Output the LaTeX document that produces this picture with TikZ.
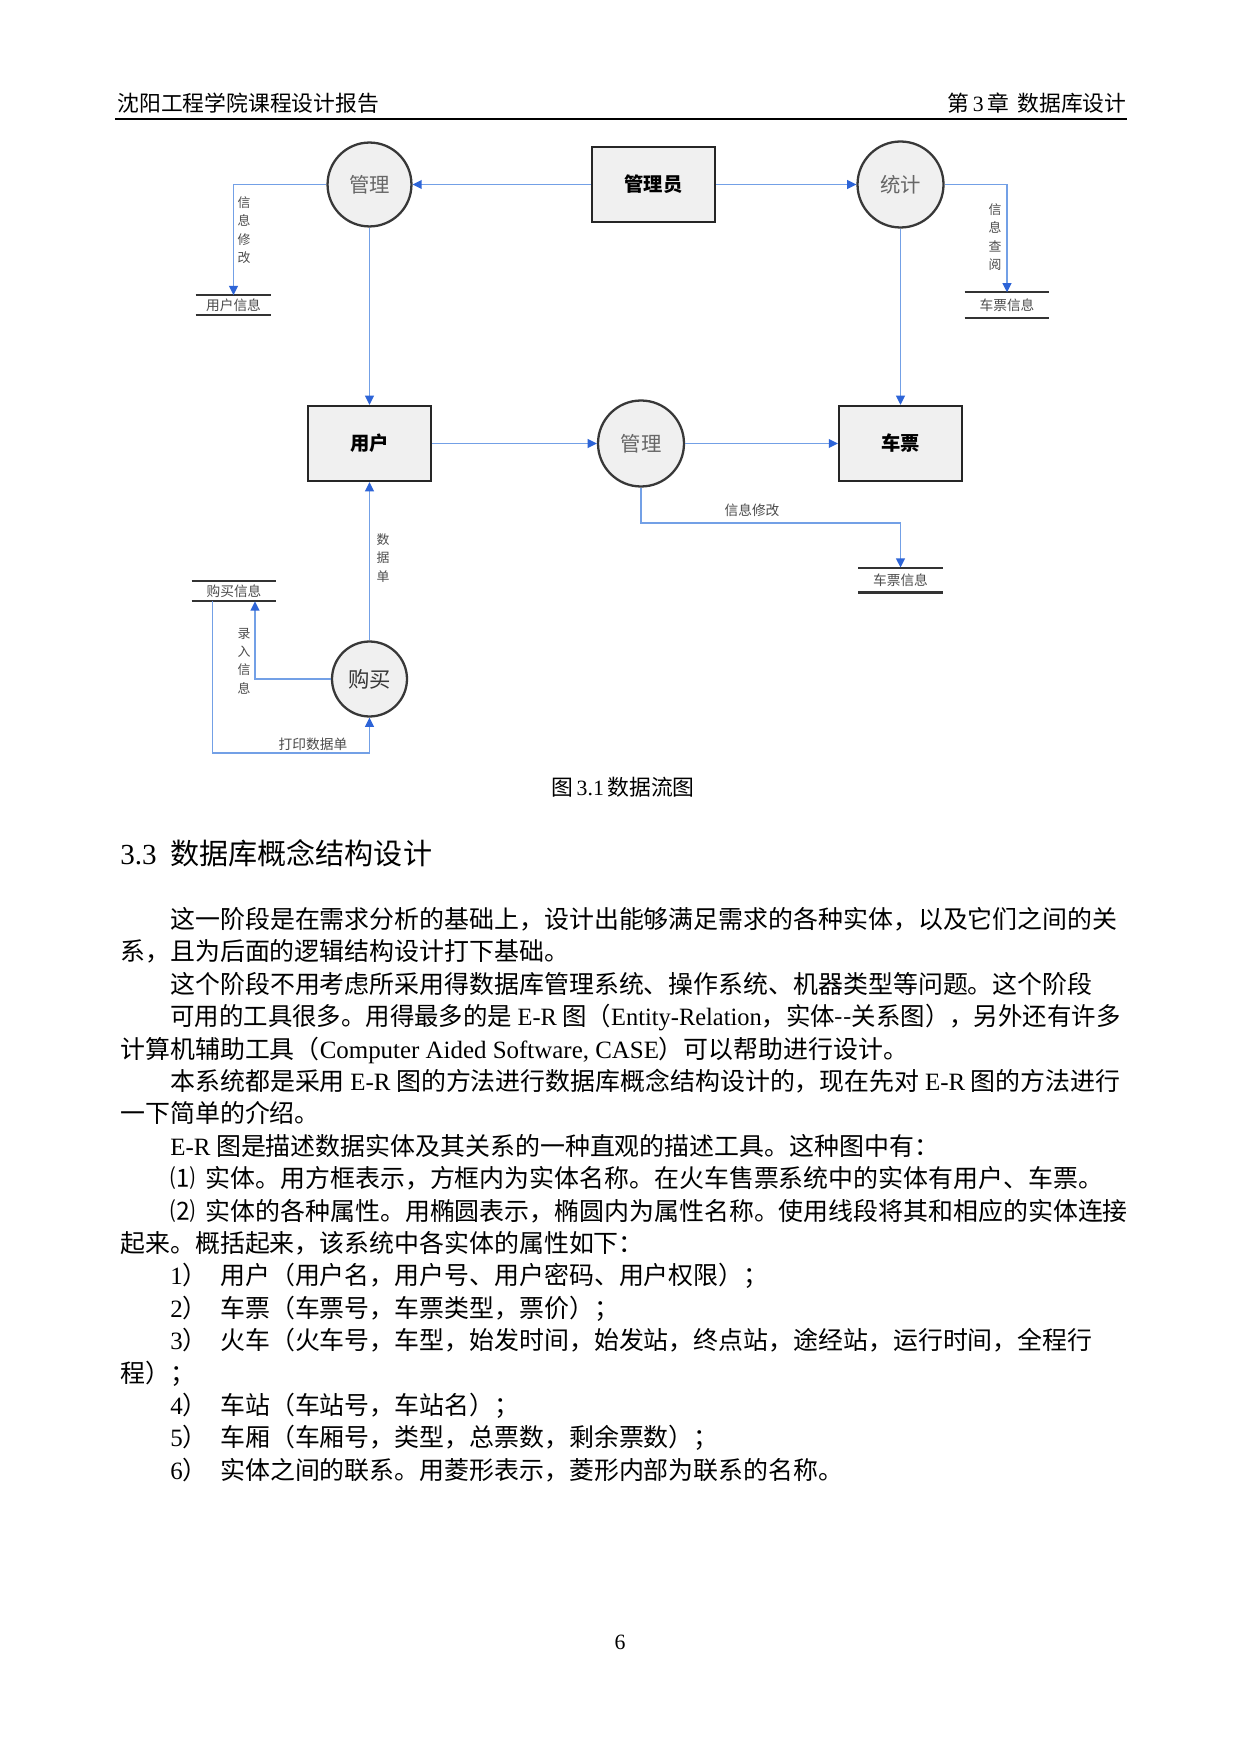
\documentclass[tikz,border=0pt]{standalone}
\usepackage{graphicx}
\usepackage{fontspec}
\setmainfont{Noto Sans CJK SC}
\newfontfamily\lat{Liberation Serif}
\usetikzlibrary{arrows.meta,calc}
\XeTeXlinebreaklocale "zh"
\XeTeXlinebreakskip=0pt plus 2pt
\definecolor{flowline}{RGB}{115,160,230}
\definecolor{flowtip}{RGB}{45,100,215}
\definecolor{shapefill}{RGB}{240,240,240}
\tikzset{
  flow/.style={draw=flowline, line width=0.85pt, -{Triangle[length=4.4pt,width=4.2pt,color=flowtip]}},
  flowplain/.style={draw=flowline, line width=0.85pt},
  entbox/.style={draw=black!85, line width=1.1pt, fill=shapefill, minimum width=59.2pt, minimum height=36.1pt, inner sep=0pt, font=\fontsize{9.3}{10}\selectfont\bfseries},
  procc/.style={circle, draw=black!78, line width=1.1pt, fill=shapefill, inner sep=0pt, font=\fontsize{9.8}{10}\selectfont, text=black!60},
  store/.style={inner sep=0pt, font=\fontsize{6.6}{7}\selectfont, text=black!70},
  storeline/.style={draw=black!80, line width=1pt},
  vlabel/.style={align=center, inner sep=0pt, font=\fontsize{6.2}{8.8}\selectfont, text=black!70},
  hlabel/.style={inner sep=0pt, font=\fontsize{6.6}{7}\selectfont, text=black!70},
  bodyline/.style={anchor=base west, inner sep=0pt, font=\fontsize{12}{14}\selectfont},
  headtext/.style={inner sep=0pt, font=\fontsize{10.5}{12}\selectfont},
}
\begin{document}
\begin{tikzpicture}[x=0.48147pt, y=-0.48147pt]
\fill[white] (0,0) rectangle (1241,1754);
\useasboundingbox (0,0) rectangle (1241,1754);

% header
\node[headtext, anchor=base west] (hl) at (117,111.5) {沈阳工程学院课程设计报告};
\node[headtext, anchor=base east] (hr) at (1127,111.5) {第\,{\lat 3}\,章\hspace{4pt}数据库设计};
\draw[line width=0.9pt] (115,119) -- (1127,119);

% diagram nodes
\node[entbox] (admin) at (653.5,184.5) {管理员};
\node[procc, minimum size=40.4pt] (m1) at (369.5,184.5) {管理};
\node[procc, minimum size=41.4pt] (stat) at (900.5,184.5) {统计};
\node[entbox] (user) at (369.5,443.5) {用户};
\node[procc, minimum size=41.4pt] (m3) at (641,443.5) {管理};
\node[entbox] (ticket) at (900.5,443.5) {车票};
\node[procc, minimum size=36.1pt, text=black!78, font=\fontsize{10.3}{11}\selectfont] (buy) at (369.5,679) {购买};

% data stores
\node[store, minimum width=36.1pt, minimum height=9.1pt] (s1) at (233.5,305) {用户信息};
\node[store, minimum width=40.4pt, minimum height=11.8pt] (s2) at (1007,305) {车票信息};
\node[store, minimum width=40.4pt, minimum height=11.6pt] (s3) at (900.5,580) {车票信息};
\node[store, minimum width=40.4pt, minimum height=9.6pt] (s4) at (234,591) {购买信息};
\foreach \s in {s1,s2,s3,s4}{
  \draw[storeline] (\s.north west) -- (\s.north east);
  \draw[storeline] (\s.south west) -- (\s.south east);
}

% connectors
\draw[flow] (admin.west) -- (m1.east);
\draw[flow] (admin.east) -- (stat.west);
\draw[flow] (m1.west) -| (s1.north);
\draw[flow] (stat.east) -| (s2.north);
\draw[flow] (m1.south) -- (user.north);
\draw[flow] (stat.south) -- (ticket.north);
\draw[flow] (user.east) -- (m3.west);
\draw[flow] (m3.east) -- (ticket.west);
\coordinate (k1) at (641,523);
\draw[flow] (m3.south) -- (k1) -| (s3.north);
\draw[flow] (buy.north) -- (user.south);
\draw[flow] (buy.west) -| ($(s4.south)+(21,0)$);
\coordinate (k2) at (212.5,753);
\draw[flow] ($(s4.south)+(-21.5,0)$) -- (k2) -| (buy.south);

% connector labels
\node[vlabel] (lb1) at (244,230) {信\\息\\修\\改};
\node[vlabel] (lb2) at (995,237) {信\\息\\查\\阅};
\node[vlabel] (lb3) at (383,558) {数\\据\\单};
\node[vlabel] (lb4) at (244,661) {录\\入\\信\\息};
\node[hlabel] (lb5) at (752,510) {信息修改};
\node[hlabel] (lb6) at (313,744) {打印数据单};

% caption
\node[headtext] (cap) at (623,787) {图\,{\lat 3.1}\,数据流图};

% section title
\node[anchor=base west, inner sep=0pt, font=\fontsize{14}{16}\selectfont\lat] (secn) at (120,864) {3.3};
\node[anchor=base west, inner sep=0pt, font=\fontsize{14}{16}\selectfont] (sect) at (170,864) {数据库概念结构设计};

% body text
\node[bodyline] (L0) at (170,928.5) {\makebox[457.4pt][s]{这一阶段是在需求分析的基础上，设计出能够满足需求的各种实体，以及它们之间的关}};
\node[bodyline] (L1) at (120,960.9) {系，且为后面的逻辑结构设计打下基础。};
\node[bodyline] (L2) at (170,993.3) {这个阶段不用考虑所采用得数据库管理系统、操作系统、机器类型等问题。这个阶段};
\node[bodyline] (L3) at (170,1025.7) {\resizebox{457.4pt}{\height}{可用的工具很多。用得最多的是 {\lat E-R} 图（{\lat Entity-Relation}，实体-{}-关系图），另外还有许多}};
\node[bodyline] (L4) at (120,1058.1) {计算机辅助工具（{\lat Computer Aided Software, CASE}）可以帮助进行设计。};
\node[bodyline] (L5) at (170,1090.5) {\makebox[457.4pt][s]{本系统都是采用 {\lat E-R} 图的方法进行数据库概念结构设计的，现在先对 {\lat E-R} 图的方法进行}};
\node[bodyline] (L6) at (120,1122.9) {一下简单的介绍。};
\node[bodyline] (L7) at (170,1155.3) {{\lat E-R} 图是描述数据实体及其关系的一种直观的描述工具。这种图中有：};
\node[bodyline] (L8) at (170,1187.7) {⑴\hspace{5pt}实体。用方框表示，方框内为实体名称。在火车售票系统中的实体有用户、车票。};
\node[bodyline] (L9) at (170,1220.1) {⑵\hspace{5pt}实体的各种属性。用椭圆表示，椭圆内为属性名称。使用线段将其和相应的实体连接};
\node[bodyline] (L10) at (120,1252.5) {起来。概括起来，该系统中各实体的属性如下：};
\node[bodyline] (L11) at (170,1284.9) {{\lat 1}）\hspace{6pt}用户（用户名，用户号、用户密码、用户权限）；};
\node[bodyline] (L12) at (170,1317.3) {{\lat 2}）\hspace{6pt}车票（车票号，车票类型，票价）；};
\node[bodyline] (L13) at (170,1349.7) {{\lat 3}）\hspace{6pt}火车（火车号，车型，始发时间，始发站，终点站，途经站，运行时间，全程行};
\node[bodyline] (L14) at (120,1382.1) {程）；};
\node[bodyline] (L15) at (170,1414.5) {{\lat 4}）\hspace{6pt}车站（车站号，车站名）；};
\node[bodyline] (L16) at (170,1446.9) {{\lat 5}）\hspace{6pt}车厢（车厢号，类型，总票数，剩余票数）；};
\node[bodyline] (L17) at (170,1479.3) {{\lat 6}）\hspace{6pt}实体之间的联系。用菱形表示，菱形内部为联系的名称。};

% page number
\node[headtext, font=\fontsize{10.5}{12}\selectfont\lat] (pg) at (620,1642) {6};
\end{tikzpicture}
\end{document}
